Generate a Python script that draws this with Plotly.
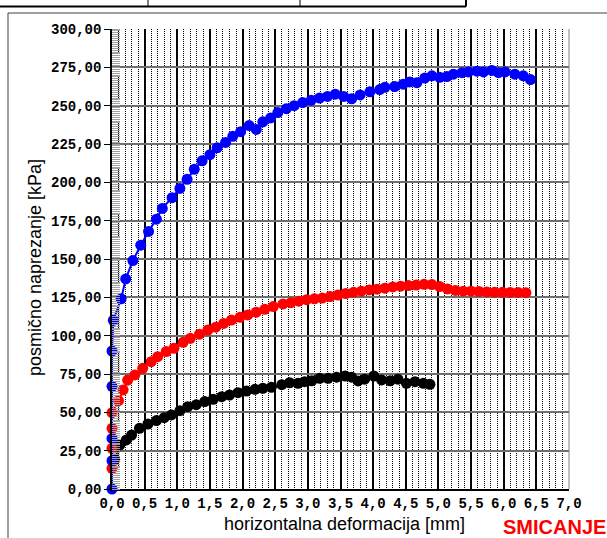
import plotly.graph_objects as go

# ---- data ----
blue_x = [0, 0, 0, 0, 0, 0.02, 0.14, 0.21, 0.32, 0.44, 0.56, 0.68, 0.77, 0.92, 1.04, 1.15, 1.26, 1.38,
          1.50, 1.61, 1.74, 1.85, 1.97, 2.10, 2.21, 2.31, 2.43, 2.54, 2.67, 2.79, 2.92, 3.05, 3.18, 3.30,
          3.42, 3.55, 3.67, 3.80, 3.95, 4.10, 4.18, 4.33, 4.46, 4.56, 4.67, 4.79, 4.90, 5.02, 5.13, 5.23,
          5.36, 5.46, 5.59, 5.69, 5.82, 5.92, 6.02, 6.17, 6.30, 6.41]
blue_y = [0, 18.5, 33, 67, 90, 110, 124, 137, 149, 159, 168, 176, 183, 190, 196, 202, 208.5, 214,
          218, 222.5, 226, 230, 233, 237, 234.5, 239.5, 242, 245.5, 248, 250, 252, 253.5, 255, 256,
          257.5, 256, 254.5, 257, 259, 260.5, 262, 262.5, 264, 265.5, 265, 268, 269.5, 268.5, 269, 270.5,
          271.5, 272, 272.5, 272, 273, 271.5, 272, 270.5, 269.5, 267]

red_x = [0, 0, 0, 0, 0.10, 0.17, 0.24, 0.35, 0.47, 0.60, 0.70, 0.83, 0.95, 1.09, 1.20, 1.34, 1.47, 1.59,
         1.71, 1.83, 1.96, 2.08, 2.21, 2.34, 2.47, 2.62, 2.74, 2.86, 2.98, 3.10, 3.22, 3.34, 3.46, 3.58,
         3.70, 3.82, 3.94, 4.06, 4.18, 4.30, 4.42, 4.54, 4.66, 4.78, 4.90, 5.02, 5.14, 5.26, 5.38, 5.50,
         5.62, 5.74, 5.86, 5.98, 6.10, 6.22, 6.34]
red_y = [13.5, 26.5, 39.6, 49.8, 57.6, 64.6, 71, 74.4, 78.7, 83, 86.3, 89.6, 91.8, 95.7, 98.3, 101, 103.7, 105.5,
         108, 110.2, 112, 113.5, 115.3, 117.2, 119, 120.7, 121.5, 122.5, 123.5, 124, 124.5, 125.5, 126.5, 127.5,
         128.3, 129, 129.8, 130.3, 131, 131.8, 132.3, 132.7, 133, 133.5, 133.3, 132, 130.5, 129.5, 129, 129,
         128.8, 128.5, 128.3, 128.3, 128.2, 128.2, 128]

black_x = [0.04, 0.12, 0.22, 0.30, 0.42, 0.55, 0.68, 0.80, 0.91, 1.04, 1.16, 1.29, 1.42, 1.55, 1.68, 1.80,
           1.93, 2.06, 2.19, 2.31, 2.44, 2.60, 2.72, 2.85, 2.95, 3.06, 3.18, 3.31, 3.44, 3.57, 3.67, 3.77,
           3.87, 4.01, 4.13, 4.26, 4.38, 4.51, 4.64, 4.77, 4.87]
black_y = [19.4, 28.7, 32, 35.2, 39.6, 42.4, 44.6, 46.5, 48.3, 51.1, 53.7, 55, 57, 58.5, 60.2, 61.3,
           62.8, 63.9, 65, 65.7, 66.3, 68, 69.3, 68.9, 70, 70.6, 72.2, 72.2, 72.9, 73.7, 72.9, 70.5,
           71.6, 73.7, 71.1, 70.6, 71.6, 68.9, 70, 68.9, 68.3]

x_title = "horizontalna deformacija [mm]"
y_title = "posmično naprezanje [kPa]"
stamp = "SMICANJE"

fig = go.Figure()
for xs, ys, col in [(black_x, black_y, "#000000"), (red_x, red_y, "#ff0000"), (blue_x, blue_y, "#0000ff")]:
    fig.add_trace(go.Scatter(x=xs, y=ys, mode="lines+markers",
                             line=dict(color=col, width=2),
                             marker=dict(color=col, size=11),
                             cliponaxis=False, showlegend=False))

W, H = 607, 538
L, R, T, B = 112, 569, 29, 489
pw, ph = R - L, B - T


def px(v):
    return (v - L) / pw


def py(v):
    return (B - v) / ph


tickfont = dict(family="Liberation Mono", size=14, color="#000000", weight="bold")

fig.update_layout(
    width=W, height=H,
    margin=dict(l=L, r=W - R, t=T, b=H - B, pad=0),
    paper_bgcolor="white", plot_bgcolor="white",
    separators=", ",
    xaxis=dict(range=[0, 7], tick0=0, dtick=0.5, tickformat=".1f",
               showgrid=True, gridcolor="#000000", gridwidth=1.5,
               minor=dict(dtick=0.1, showgrid=True, gridcolor="#000000", gridwidth=1, griddash="1px,1px"),
               showline=True, linecolor="#000000", linewidth=2,
               ticks="", tickfont=tickfont, zeroline=False, fixedrange=True),
    yaxis=dict(range=[0, 300], tick0=0, dtick=25, tickformat=".2f",
               showgrid=True, gridcolor="#6e6e6e", gridwidth=1.5,
               minor=dict(dtick=1.25, ticks="inside", ticklen=8, tickcolor="#a0a0a0", tickwidth=1, showgrid=False),
               showline=True, linecolor="#000000", linewidth=1.5,
               ticks="outside", ticklen=6, tickcolor="#000000", tickwidth=1,
               tickfont=tickfont, zeroline=False, fixedrange=True),
)

shapes = []
# outer frame of the chart area
shapes.append(dict(type="line", xref="paper", yref="paper", x0=px(8), x1=px(W + 5), y0=py(13), y1=py(13),
                   line=dict(color="#404040", width=1)))
shapes.append(dict(type="line", xref="paper", yref="paper", x0=px(8), x1=px(8), y0=py(13), y1=py(H + 5),
                   line=dict(color="#404040", width=1)))
# right border of plot
shapes.append(dict(type="line", xref="paper", yref="paper", x0=1, x1=1, y0=0, y1=1,
                   line=dict(color="#808080", width=1)))
# table fragment at top
shapes.append(dict(type="line", xref="paper", yref="paper", x0=px(-5), x1=px(466), y0=py(6.5), y1=py(6.5),
                   line=dict(color="#000000", width=2)))
for xv, wv in [(148, 1), (300, 1), (466, 2)]:
    shapes.append(dict(type="line", xref="paper", yref="paper", x0=px(xv), x1=px(xv), y0=py(6.5), y1=py(-5),
                       line=dict(color="#000000", width=wv)))
fig.update_layout(shapes=shapes)

fig.add_annotation(text=x_title, xref="paper", yref="paper", x=px(344), y=py(524),
                   xanchor="center", yanchor="middle", showarrow=False,
                   font=dict(family="Liberation Sans", size=18, color="#000000"))
fig.add_annotation(text=y_title, xref="paper", yref="paper", x=px(35), y=py(268),
                   xanchor="center", yanchor="middle", showarrow=False, textangle=-90,
                   font=dict(family="Liberation Sans", size=18, color="#000000"))
fig.add_annotation(text=stamp, xref="paper", yref="paper", x=px(501), y=py(527),
                   xanchor="left", yanchor="middle", showarrow=False,
                   font=dict(family="Liberation Sans", size=20, color="#ff0000", weight="bold"))

fig.write_html("out.html", config={"displayModeBar": False})

# remove default page margin so the figure sits at the window's top-left corner
with open("out.html", "r", encoding="utf-8") as f:
    html = f.read()
html = html.replace("<head>", "<head><style>html,body{margin:0;padding:0;overflow:hidden;}</style>", 1)
with open("out.html", "w", encoding="utf-8") as f:
    f.write(html)
